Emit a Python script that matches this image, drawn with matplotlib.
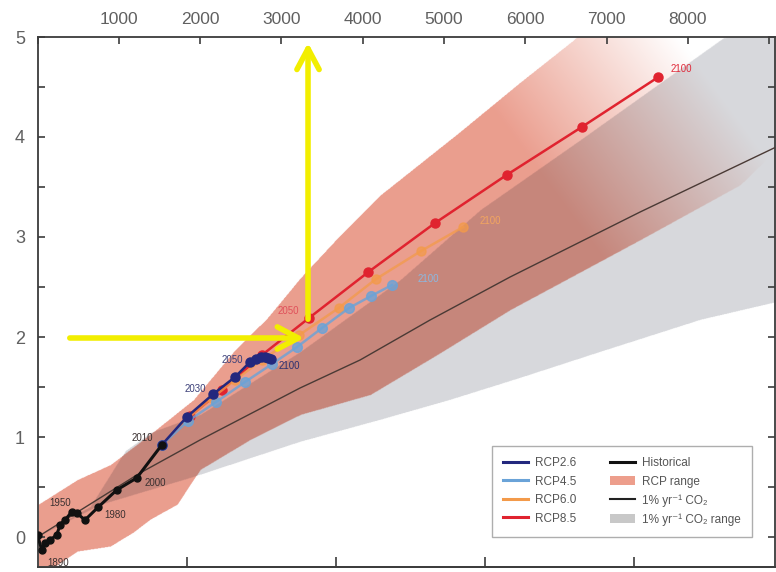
import numpy as np
import matplotlib
matplotlib.use("Agg")
import matplotlib.pyplot as plt
from matplotlib.patches import Patch
from matplotlib.lines import Line2D
from matplotlib.path import Path

# cumulative CO2 emissions (GtCO2) vs. temperature anomaly (degC)
hist_x = [0, 52, 92, 154, 236, 277, 338, 420, 482, 584, 748, 974, 1220, 1528]
hist_y = [0.02, -0.13, -0.06, -0.03, 0.02, 0.12, 0.17, 0.25, 0.24, 0.17, 0.30, 0.47, 0.59, 0.92]

rcp26_x = [1528, 1835, 2162, 2429, 2614, 2688, 2749, 2798, 2835, 2872]
rcp26_y = [0.92, 1.20, 1.43, 1.60, 1.75, 1.78, 1.80, 1.80, 1.79, 1.78]

rcp45_x = [1528, 1851, 2196, 2552, 2884, 3192, 3499, 3831, 4102, 4360]
rcp45_y = [0.92, 1.16, 1.35, 1.55, 1.73, 1.90, 2.09, 2.29, 2.41, 2.52]

rcp60_x = [1528, 1839, 2146, 2429, 2761, 3219, 3704, 4163, 4717, 5234]
rcp60_y = [0.92, 1.18, 1.39, 1.57, 1.77, 2.02, 2.29, 2.58, 2.86, 3.10]

rcp85_x = [1528, 1876, 2269, 2761, 3339, 4069, 4889, 5769, 6694, 7636]
rcp85_y = [0.92, 1.21, 1.47, 1.82, 2.19, 2.65, 3.14, 3.62, 4.10, 4.60]

# 1% per year CO2 increase runs
pct_x = [0, 1261, 1999, 3229, 3967, 4828, 5812, 7411, 9084]
pct_y = [0.0, 0.64, 0.97, 1.49, 1.77, 2.17, 2.60, 3.25, 3.90]

pct_range_x = [0, 646, 1076, 1384, 1999, 3229, 4459, 5443, 6673, 8432, 9200,
               9200, 8149, 6919, 5935, 5074, 4213, 3229, 1999, 1384, 769, 0]
pct_range_y = [0.0, 0.30, 0.86, 1.04, 1.22, 1.85, 2.57, 3.27, 3.97, 4.99, 5.1,
               2.37, 2.17, 1.85, 1.59, 1.37, 1.17, 0.95, 0.62, 0.47, 0.32, 0.0]

rcp_range_x = [0, 486, 892, 1298, 1913, 2405, 2823, 3229, 3721, 4213, 5172, 5935, 6587, 6919,
               8641, 9084, 8641, 7411, 5812, 4914, 4090, 3229, 2614, 1999, 1716, 1384, 1175,
               892, 486, 215, 0]
rcp_range_y = [0.32, 0.57, 0.72, 0.97, 1.37, 1.85, 2.19, 2.59, 3.02, 3.42, 4.04, 4.55, 4.97, 5.22,
               5.22, 3.87, 3.52, 2.97, 2.27, 1.82, 1.42, 1.22, 0.97, 0.67, 0.32, 0.17, 0.04,
               -0.10, -0.15, -0.30, -0.30]

# year labels: (text, x, y, colour)
year_labels = [
    ("1890", 252, -0.26, "#3a3030"),
    ("1950", 277, 0.34, "#3a3030"),
    ("1980", 953, 0.22, "#3a3030"),
    ("2000", 1445, 0.54, "#3a3030"),
    ("2010", 1285, 0.99, "#3a3030"),
    ("2030", 1937, 1.48, "#3b3f78"),
    ("2050", 2392, 1.77, "#3b3f78"),
    ("2100", 3093, 1.71, "#2c3070"),
    ("2050", 3081, 2.26, "#e0505a"),
    ("2100", 4803, 2.58, "#8cb8e0"),
    ("2100", 5566, 3.16, "#f2a560"),
    ("2100", 7915, 4.68, "#e02a3a"),
]

top_ticks = [0, 1000, 2000, 3000, 4000, 5000, 6000, 7000, 8000, 9000]
top_labels = ["", "1000", "2000", "3000", "4000", "5000", "6000", "7000", "8000", ""]
gtc_ticks = [500, 1000, 1500, 2000]
y_ticks = [0, 1, 2, 3, 4, 5]

XMAX = 9070
YMIN, YMAX = -0.3, 5.0

NAVY = "#23287e"
LIGHTBLUE = "#6aa3d8"
ORANGE = "#f39a4a"
RED = "#e0232f"
SALMON = np.array([0.92, 0.62, 0.56])
GREY = np.array([0.845, 0.85, 0.865])
YELLOW = "#f2ee00"

plt.rcParams["font.family"] = ["Liberation Sans", "DejaVu Sans"]

fig = plt.figure(figsize=(7.76, 5.72), dpi=100)
ax = fig.add_axes([37.5 / 776, 5 / 572, 737.5 / 776, 530 / 572])
ax.set_xlim(0, XMAX)
ax.set_ylim(YMIN, YMAX)

# plumes: grey 1%/yr range, RCP range multiplied on top and fading at its upper end
gx = np.linspace(0, XMAX, 1400)
gy = np.linspace(YMIN, YMAX, 1000)
GX, GY = np.meshgrid(gx, gy)
pts = np.column_stack([GX.ravel(), GY.ravel()])
in_grey = Path(np.column_stack([pct_range_x, pct_range_y])).contains_points(pts).reshape(GX.shape)
in_rcp = Path(np.column_stack([rcp_range_x, rcp_range_y])).contains_points(pts).reshape(GX.shape)
s = 0.80 * (37.5 + 0.0813 * GX) - 0.59 * (537 - 100 * GY)
fade = np.clip((520 - s) / (520 - 330), 0, 1)[..., None]

rgb = np.ones(GX.shape + (3,))
rgb[in_grey] = GREY
salmon_eff = fade * SALMON + (1 - fade)
rgb = np.where(in_rcp[..., None], rgb * salmon_eff, rgb)
alpha = (in_grey | in_rcp).astype(float)[..., None]
ax.imshow(np.concatenate([rgb, alpha], axis=-1), extent=[0, XMAX, YMIN, YMAX],
          origin="lower", aspect="auto", interpolation="bilinear", zorder=1)

ax.plot(pct_x, pct_y, color="#4a3a35", lw=1.0, zorder=3)

ax.plot(rcp85_x, rcp85_y, color=RED, lw=1.8, marker="o", ms=6.5, zorder=4)
ax.plot(rcp60_x, rcp60_y, color=ORANGE, lw=1.8, marker="o", ms=6.5, alpha=0.75, zorder=5)
ax.plot(rcp45_x, rcp45_y, color=LIGHTBLUE, lw=1.8, marker="o", ms=7, alpha=0.8, zorder=6)
ax.plot(rcp26_x, rcp26_y, color=NAVY, lw=1.8, marker="o", ms=6.5, zorder=7)
ax.plot(hist_x, hist_y, color="#111111", lw=2.2, marker="o", ms=5, zorder=8)

for txt, x, y, c in year_labels:
    ax.text(x, y, txt, color=c, fontsize=7, ha="center", va="center", zorder=9)

# arrows reading off the 2 degC crossing
ax.annotate("", xy=(3327, 4.97), xytext=(3327, 2.15),
            arrowprops=dict(arrowstyle="->,head_length=1.5,head_width=0.8",
                            color=YELLOW, lw=4), zorder=10, annotation_clip=False)
ax.annotate("", xy=(3312, 1.99), xytext=(363, 1.99),
            arrowprops=dict(arrowstyle="->,head_length=1.5,head_width=0.8",
                            color=YELLOW, lw=4), zorder=10, annotation_clip=False)

# axes styling
for sp in ax.spines.values():
    sp.set_color("#3c3c3c")
    sp.set_linewidth(1.3)

ax.xaxis.tick_top()
ax.set_xticks(top_ticks)
ax.set_xticklabels(top_labels)
ax.set_yticks(y_ticks)
ax.set_yticks(np.arange(0.5, 5, 1.0), minor=True)
ax.tick_params(axis="x", which="both", direction="in", length=5, width=1.2,
               colors="#3c3c3c", labelcolor="#606060", labelsize=12.5, pad=7)
ax.tick_params(axis="y", which="both", direction="in", length=5, width=1.2,
               colors="#3c3c3c", labelcolor="#606060", labelsize=13, pad=9,
               left=True, right=True)

secax = ax.secondary_xaxis("bottom", functions=(lambda v: v / 3.667, lambda v: v * 3.667))
secax.set_xticks(gtc_ticks)
secax.set_xticklabels([])
secax.tick_params(direction="in", length=7, width=1.2, colors="#3c3c3c")
secax.spines["bottom"].set_color("#3c3c3c")
secax.spines["bottom"].set_linewidth(1.3)

handles = [
    Line2D([], [], color=NAVY, lw=2.2),
    Line2D([], [], color=LIGHTBLUE, lw=2.2),
    Line2D([], [], color=ORANGE, lw=2.2),
    Line2D([], [], color=RED, lw=2.2),
    Line2D([], [], color="#111111", lw=2.2),
    Patch(facecolor=(0.93, 0.62, 0.55), edgecolor="none"),
    Line2D([], [], color="#222222", lw=1.5),
    Patch(facecolor="#c8c8c8", edgecolor="none"),
]
labels = ["RCP2.6", "RCP4.5", "RCP6.0", "RCP8.5", "Historical", "RCP range",
          "1% yr\u207b\u00b9 CO\u2082", "1% yr\u207b\u00b9 CO\u2082 range"]
leg = ax.legend(handles, labels, ncol=2, loc="lower right",
                bbox_to_anchor=(0.969, 0.057), borderaxespad=0, fontsize=8.5,
                frameon=True, fancybox=False, edgecolor="#9a9a9a", handlelength=2.1,
                handleheight=0.8, columnspacing=2.9, labelspacing=0.55,
                borderpad=0.95, handletextpad=0.6, labelcolor="#555555")
leg.get_frame().set_linewidth(1.0)
leg.set_zorder(11)

fig.savefig("out.png", dpi=100)
